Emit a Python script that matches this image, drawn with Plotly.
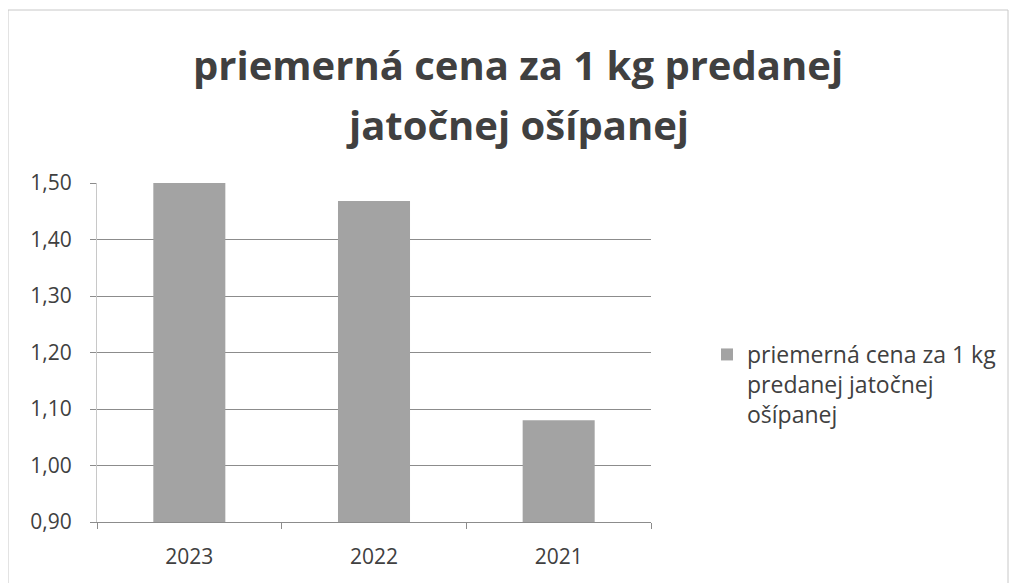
import plotly.graph_objects as go

roky = ["2023", "2022", "2021"]
ceny = [1.50, 1.468, 1.08]
nadpis = ["priemerná cena za 1 kg predanej", "jatočnej ošípanej"]
legenda = "priemerná cena za 1 kg<br>predanej jatočnej<br>ošípanej"

font = "Open Sans, Liberation Sans, sans-serif"

# stranka ma okraj 8 px, preto su rozmery o 8 mensie
L, T, W, H = 89, 175, 554, 339

fig = go.Figure()
fig.add_trace(go.Bar(
    x=roky, y=ceny, name=legenda,
    marker=dict(color="#a3a3a3", line=dict(width=0)),
    width=0.39, showlegend=True,
))

for riadok, y_px in zip(nadpis, [56, 116]):
    fig.add_annotation(
        text=riadok, xref="paper", yref="paper",
        x=(509.5 - L) / W, y=(T + H - y_px) / H,
        xanchor="center", yanchor="middle", showarrow=False,
        font=dict(size=40, family=font, color="#404040", weight="bold"),
    )

fig.update_layout(
    width=1010, height=575,
    margin=dict(l=L, r=1010 - L - W, t=T, b=575 - T - H, autoexpand=False),
    paper_bgcolor="white", plot_bgcolor="white",
    separators=",.",
    font=dict(family=font, color="#404040"),
    legend=dict(
        x=(707 - 97) / 554, xanchor="left", y=(522 - 333) / 339, yanchor="top",
        font=dict(size=23, color="#404040"),
        valign="top", itemsizing="constant",
    ),
    shapes=[dict(
        type="rect", xref="paper", yref="paper",
        x0=-L / W, x1=(1000 - L) / W, y0=-1, y1=(T + H - 2) / H,
        line=dict(color="#c8c8c8", width=1), layer="below",
    )],
)
fig.update_xaxes(
    showline=True, linecolor="#8c8c8c", linewidth=1,
    ticks="outside", tickson="boundaries", ticklen=6, tickcolor="#8c8c8c",
    tickfont=dict(size=21, color="#404040"), ticklabelstandoff=16,
)
fig.update_yaxes(
    range=[0.9, 1.5], dtick=0.1, tickformat=".2f",
    showline=True, linecolor="#c8c8c8", linewidth=1,
    showgrid=True, gridcolor="#8c8c8c", gridwidth=1,
    ticks="outside", ticklen=6, tickcolor="#8c8c8c",
    tickfont=dict(size=21, color="#404040"), ticklabelstandoff=14,
    zeroline=False,
)

fig.write_html("out.html")
